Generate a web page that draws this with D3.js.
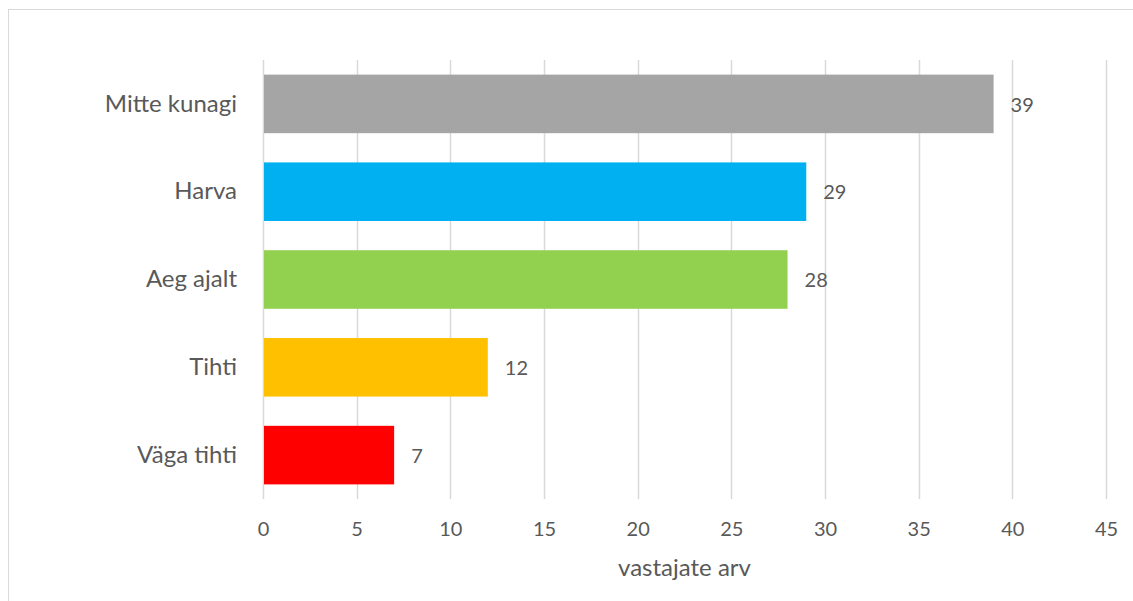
<!DOCTYPE html>
<html lang="et">
<head>
    <meta charset="UTF-8">
    <title>Vastajate arv</title>
    <script src="https://d3js.org/d3.v7.min.js"></script>
    <style>
        body {
            margin: 0;
            padding: 0;
            background-color: #ffffff;
            font-family: Lato, "Open Sans", sans-serif;
        }
        svg text {
            fill: #595959;
        }
    </style>
</head>
<body>
    <svg width="1133" height="601"></svg>

    <script>
        // Chart data
        const categories = ["Mitte kunagi", "Harva", "Aeg ajalt", "Tihti", "Väga tihti"];
        const values = [39, 29, 28, 12, 7];
        const barColors = ["#A5A5A5", "#00B0F0", "#92D050", "#FFC000", "#FF0000"];
        const xTicks = [0, 5, 10, 15, 20, 25, 30, 35, 40, 45];
        const xTitle = "vastajate arv";

        const data = categories.map((c, i) => ({category: c, value: values[i], color: barColors[i]}));

        // Layout
        const margin = {top: 60, right: 27, bottom: 102, left: 263};
        const width = 1133 - margin.left - margin.right;
        const height = 601 - margin.top - margin.bottom;

        const svg = d3.select("svg");

        // Outer chart border
        svg.append("rect")
            .attr("x", 8.5)
            .attr("y", 9.5)
            .attr("width", 1140)
            .attr("height", 600)
            .attr("fill", "none")
            .attr("stroke", "#D9D9D9")
            .attr("stroke-width", 1);

        const g = svg.append("g")
            .attr("transform", `translate(${margin.left},${margin.top})`);

        // Scales
        const x = d3.scaleLinear().domain([0, 45]).range([0, width]);
        const y = d3.scaleBand()
            .domain(categories)
            .range([0, height])
            .paddingInner(0.333)
            .paddingOuter(0.1665);

        // Gridlines
        g.append("g")
            .selectAll("line")
            .data(xTicks)
            .join("line")
            .attr("x1", d => Math.round(x(d)) + 0.5)
            .attr("x2", d => Math.round(x(d)) + 0.5)
            .attr("y1", 0)
            .attr("y2", height)
            .attr("stroke", "#D9D9D9")
            .attr("stroke-width", 1.5);

        // Bars
        g.selectAll(".bar")
            .data(data)
            .join("rect")
            .attr("class", "bar")
            .attr("x", x(0) + 1)
            .attr("y", d => y(d.category))
            .attr("width", d => x(d.value) - x(0) - 1)
            .attr("height", y.bandwidth())
            .attr("fill", d => d.color);

        // Value labels
        g.selectAll(".value-label")
            .data(data)
            .join("text")
            .attr("class", "value-label")
            .attr("x", d => x(d.value) + 17)
            .attr("y", d => y(d.category) + y.bandwidth() / 2)
            .attr("dy", "0.38em")
            .attr("font-size", 20)
            .text(d => d.value);

        // Y axis (category labels only)
        const yAxis = g.append("g")
            .call(d3.axisLeft(y).tickSize(0).tickPadding(26));
        yAxis.select(".domain").remove();
        yAxis.selectAll("text")
            .attr("font-size", 24)
            .attr("font-family", "Lato, sans-serif");

        // X axis (tick labels only)
        const xAxis = g.append("g")
            .attr("transform", `translate(0,${height})`)
            .call(d3.axisBottom(x).tickValues(xTicks).tickSize(0).tickPadding(23));
        xAxis.select(".domain").remove();
        xAxis.selectAll("text")
            .attr("font-size", 20)
            .attr("font-family", "Lato, sans-serif");

        // X axis title
        g.append("text")
            .attr("x", width / 2)
            .attr("y", height + 77)
            .attr("text-anchor", "middle")
            .attr("font-size", 24)
            .text(xTitle);
    </script>
</body>
</html>
